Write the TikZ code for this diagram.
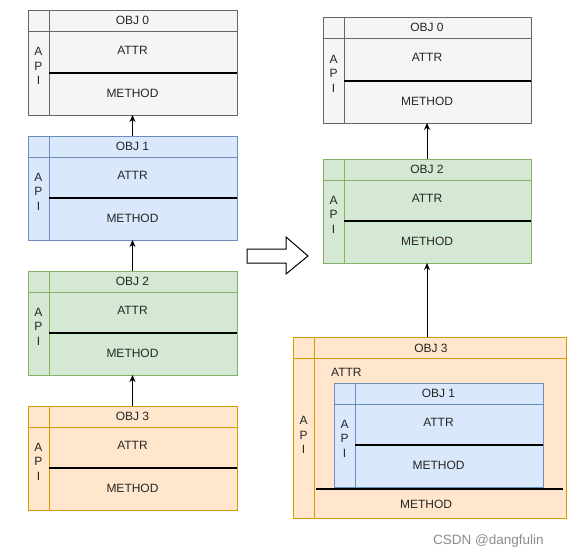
\documentclass[tikz,border=0pt]{standalone}
\usepackage{fontspec}
\setmainfont{Liberation Sans}
\usetikzlibrary{arrows.meta,calc}
\definecolor{gfill}{HTML}{F5F5F5}\definecolor{gline}{HTML}{666666}
\definecolor{bfill}{HTML}{DAE8FC}\definecolor{bline}{HTML}{6C8EBF}
\definecolor{nfill}{HTML}{D5E8D4}\definecolor{nline}{HTML}{82B366}
\definecolor{ofill}{HTML}{FFE6CC}\definecolor{oline}{HTML}{D79B00}
\tikzset{
  gray/.style={fill=gfill,draw=gline},
  blue/.style={fill=bfill,draw=bline},
  green/.style={fill=nfill,draw=nline},
  orange/.style={fill=ofill,draw=oline},
  objbox/.style={rectangle,inner sep=0pt,outer sep=0pt,line width=1pt,anchor=north west},
  divider/.style={draw=black,line width=1.3pt},
  txt/.style={font=\fontsize{12}{14}\selectfont,text=black!85,inner sep=0pt},
  apitxt/.style={font=\fontsize{12}{14.5}\selectfont,text=black!85,inner sep=0pt,align=center},
  link/.style={draw=black,line width=1pt,-{Stealth[length=7pt,width=6pt]}},
}
% #1 name, #2 left, #3 top, #4 right, #5 bottom, #6 style, #7 title, #8 divider y, #9 line colour
\newcommand{\objbox}[9]{%
  \node[objbox,#6,minimum width={(#4-#2)*1pt},minimum height={(#5-#3)*1pt}] (#1) at (#2,#3) {};
  \draw[draw=#9,line width=1pt] (#2,#3+21) -- (#4,#3+21);
  \draw[draw=#9,line width=1pt] (#2+21,#3) -- (#2+21,#5);
  \draw[divider] (#2+21,#8) -- (#4,#8);
  \node[txt] (#1title) at ({(#2+#4)/2},#3+10) {#7};
  \node[txt] (#1attr) at ({(#2+#4)/2},{(#3+21+#8)/2-2}) {ATTR};
  \node[txt] (#1meth) at ({(#2+#4)/2},{(#8+#5)/2-1}) {METHOD};
  \node[apitxt] (#1api) at (#2+10.5,{(#3+21+#5)/2-7}) {A\\P\\I};
}
\begin{document}
\begin{tikzpicture}[x=1pt,y=-1pt]
\useasboundingbox (0,0) rectangle (584,557);
% left column
\objbox{la}{28}{10}{237}{115}{gray}{OBJ 0}{73}{gline}
\objbox{lb}{28}{136}{237}{240}{blue}{OBJ 1}{198}{bline}
\objbox{lc}{28}{271}{237}{375}{green}{OBJ 2}{333}{nline}
\objbox{ld}{28}{406}{237}{510}{orange}{OBJ 3}{468}{oline}
\draw[link] (lb.north) -- (la.south);
\draw[link] (lc.north) -- (lb.south);
\draw[link] (ld.north) -- (lc.south);
% hollow arrow
\draw[line width=1pt,fill=white] (247,249) -- (286,249) -- (286,237) -- (308,256) -- (286,274) -- (286,263) -- (247,263) -- cycle;
% right column
\objbox{ra}{323}{17}{531}{123}{gray}{OBJ 0}{81}{gline}
\objbox{rb}{323}{159}{531}{263}{green}{OBJ 2}{221}{nline}
% big OBJ 3
\node[objbox,orange,minimum width=273pt,minimum height=181pt] (rc) at (293,337) {};
\draw[draw=oline,line width=1pt] (293,358) -- (566,358);
\draw[draw=oline,line width=1pt] (314,337) -- (314,518);
\node[txt] (rctitle) at (431,348) {OBJ 3};
\node[apitxt] (rcapi) at (303.5,435) {A\\P\\I};
\node[txt,anchor=west] (rcattr) at (331,372) {ATTR};
\objbox{ri}{334}{383}{543}{487}{blue}{OBJ 1}{445}{bline}
\draw[divider] (316,489) -- (563,489);
\node[txt] (rcmeth) at (426,504) {METHOD};
\draw[link] (rc.north -| rb.south) -- (rb.south);
\draw[link] (rb.north) -- (ra.south);
% watermark
\node[font=\fontsize{13.5}{16}\selectfont,text=black!45,anchor=west,inner sep=0pt] (wm) at (433,541) {CSDN @dangfulin};
\end{tikzpicture}
\end{document}
